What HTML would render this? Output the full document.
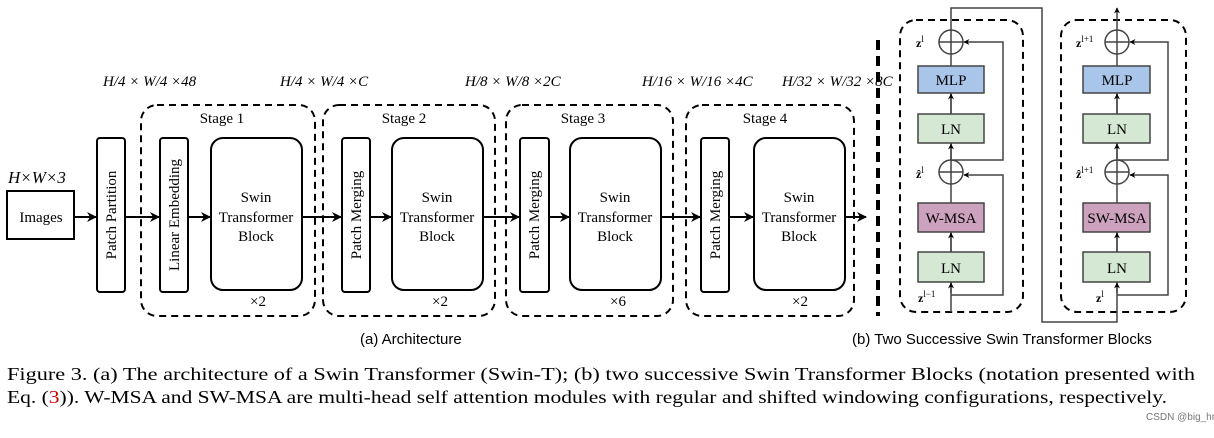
<!DOCTYPE html>
<html><head><meta charset="utf-8"><style>
body{margin:0;background:#fff;width:1214px;height:433px;overflow:hidden}
svg text{font-family:"Liberation Serif",serif;fill:#000}
.s{font-family:"Liberation Sans",sans-serif !important}
</style></head><body>
<svg width="1214" height="433" viewBox="0 0 1214 433" xmlns="http://www.w3.org/2000/svg">
<defs><marker id="a" viewBox="0 0 10 10" refX="9" refY="5" markerWidth="5" markerHeight="5" orient="auto"><path d="M0,0L10,5L0,10L3,5z" fill="#000"/></marker>
<marker id="b" viewBox="0 0 10 10" refX="9" refY="5" markerWidth="4" markerHeight="4" orient="auto"><path d="M0,0L10,5L0,10L3,5z" fill="#000"/></marker></defs>
<g fill="none" stroke="#000" stroke-width="2">
<rect x="7" y="191" width="67" height="48"/>
<rect x="97" y="138" width="28" height="154" rx="3"/>
<rect x="160" y="138" width="28" height="154" rx="3"/>
<rect x="211" y="138" width="91" height="152" rx="12"/>
<rect x="342" y="138" width="28" height="154" rx="3"/>
<rect x="392" y="138" width="91" height="152" rx="12"/>
<rect x="520" y="138" width="29" height="154" rx="3"/>
<rect x="570" y="138" width="91" height="152" rx="12"/>
<rect x="701" y="138" width="28" height="154" rx="3"/>
<rect x="754" y="138" width="91" height="152" rx="12"/>
<g stroke-dasharray="7,5">
<rect x="141" y="105" width="174" height="211" rx="16"/>
<rect x="323" y="105" width="172" height="211" rx="16"/>
<rect x="506" y="105" width="167" height="211" rx="16"/>
<rect x="686" y="105" width="168" height="211" rx="16"/>
<rect x="900" y="20" width="123" height="292" rx="16"/>
<rect x="1061" y="20" width="125" height="292" rx="16"/>
</g>
<line x1="878" y1="40" x2="878" y2="316" stroke-width="4" stroke-dasharray="10,6"/>
<g marker-end="url(#a)">
<line x1="74" y1="217" x2="96" y2="217"/>
<line x1="125" y1="217" x2="159" y2="217"/>
<line x1="188" y1="217" x2="210" y2="217"/>
<line x1="302" y1="217" x2="341" y2="217"/>
<line x1="370" y1="217" x2="391" y2="217"/>
<line x1="483" y1="217" x2="519" y2="217"/>
<line x1="549" y1="217" x2="569" y2="217"/>
<line x1="661" y1="217" x2="700" y2="217"/>
<line x1="729" y1="217" x2="753" y2="217"/>
<line x1="845" y1="217" x2="866" y2="217"/>
</g>
</g>
<g font-size="15" text-anchor="middle">
<text x="41" y="222">Images</text>
<text transform="translate(116,215) rotate(-90)">Patch Partition</text>
<text transform="translate(179,215) rotate(-90)">Linear Embedding</text>
<text transform="translate(361,215) rotate(-90)">Patch Merging</text>
<text transform="translate(539,215) rotate(-90)">Patch Merging</text>
<text transform="translate(720,215) rotate(-90)">Patch Merging</text>
<g><text x="256" y="202">Swin</text><text x="256" y="222">Transformer</text><text x="256" y="241">Block</text></g>
<g><text x="437" y="202">Swin</text><text x="437" y="222">Transformer</text><text x="437" y="241">Block</text></g>
<g><text x="615" y="202">Swin</text><text x="615" y="222">Transformer</text><text x="615" y="241">Block</text></g>
<g><text x="799" y="202">Swin</text><text x="799" y="222">Transformer</text><text x="799" y="241">Block</text></g>
<text x="222" y="123">Stage 1</text><text x="404" y="123">Stage 2</text>
<text x="583" y="123">Stage 3</text><text x="765" y="123">Stage 4</text>
<text x="258" y="306">×2</text><text x="440" y="306">×2</text><text x="618" y="306">×6</text><text x="800" y="306">×2</text>
</g>
<g font-size="17" font-style="italic"><text x="8" y="183">H×W×3</text></g>
<g font-size="15" font-style="italic">
<text x="103" y="86">H/4 × W/4 ×48</text>
<text x="280" y="86">H/4 × W/4 ×C</text>
<text x="465" y="86">H/8 × W/8 ×2C</text>
<text x="642" y="86">H/16 × W/16 ×4C</text>
<text x="782" y="86">H/32 × W/32 ×8C</text>
</g>
<g stroke="#444" stroke-width="1.5" fill="none">
<polyline points="951,312 951,29 951,8 1042,8 1042,322 1117,322 1117,312"/>
<line x1="1117" y1="312" x2="1117" y2="8" marker-end="url(#b)"/>
<circle cx="951" cy="42" r="12"/><circle cx="951" cy="172" r="12"/>
<circle cx="1117" cy="42" r="12"/><circle cx="1117" cy="172" r="12"/>
<line x1="939" y1="42" x2="963" y2="42"/><line x1="939" y1="172" x2="963" y2="172"/>
<line x1="1105" y1="42" x2="1129" y2="42"/><line x1="1105" y1="172" x2="1129" y2="172"/>
<polyline points="951,295 1003,295 1003,175 964,175" marker-end="url(#b)"/>
<polyline points="951,160 1003,160 1003,42 964,42" marker-end="url(#b)"/>
<polyline points="1117,295 1168,295 1168,175 1130,175" marker-end="url(#b)"/>
<polyline points="1117,160 1168,160 1168,42 1130,42" marker-end="url(#b)"/>
<line x1="951" y1="293" x2="951" y2="283" marker-end="url(#b)"/><line x1="951" y1="252" x2="951" y2="233" marker-end="url(#b)"/>
<line x1="951" y1="160" x2="951" y2="144" marker-end="url(#b)"/><line x1="951" y1="114" x2="951" y2="94" marker-end="url(#b)"/>
<line x1="1117" y1="293" x2="1117" y2="283" marker-end="url(#b)"/><line x1="1117" y1="252" x2="1117" y2="233" marker-end="url(#b)"/>
<line x1="1117" y1="160" x2="1117" y2="144" marker-end="url(#b)"/><line x1="1117" y1="114" x2="1117" y2="94" marker-end="url(#b)"/>
</g>
<g stroke="#444" stroke-width="1.5">
<rect x="918" y="66" width="66" height="27" fill="#a9c5ea"/><rect x="918" y="114" width="66" height="29" fill="#d5e8d4"/>
<rect x="918" y="203" width="66" height="29" fill="#cda2be"/><rect x="918" y="252" width="66" height="30" fill="#d5e8d4"/>
<rect x="1083" y="66" width="67" height="27" fill="#a9c5ea"/><rect x="1083" y="114" width="67" height="29" fill="#d5e8d4"/>
<rect x="1083" y="203" width="67" height="29" fill="#cda2be"/><rect x="1083" y="252" width="67" height="30" fill="#d5e8d4"/>
</g>
<g font-size="15" text-anchor="middle">
<text x="951" y="85">MLP</text><text x="951" y="134">LN</text><text x="951" y="223">W-MSA</text><text x="951" y="273">LN</text>
<text x="1117" y="85">MLP</text><text x="1117" y="134">LN</text><text x="1117" y="223">SW-MSA</text><text x="1117" y="273">LN</text>
</g>
<g font-size="12" font-weight="bold">
<text x="916" y="47">z<tspan font-size="9" dy="-5" font-weight="normal">l</tspan></text>
<text x="916" y="178">ẑ<tspan font-size="9" dy="-5" font-weight="normal">l</tspan></text>
<text x="918" y="302">z<tspan font-size="9" dy="-5" font-weight="normal">l−1</tspan></text>
<text x="1076" y="47">z<tspan font-size="9" dy="-5" font-weight="normal">l+1</tspan></text>
<text x="1076" y="178">ẑ<tspan font-size="9" dy="-5" font-weight="normal">l+1</tspan></text>
<text x="1096" y="302">z<tspan font-size="9" dy="-5" font-weight="normal">l</tspan></text>
</g>
<text class="s" x="360" y="344" font-size="15">(a) Architecture</text>
<text class="s" x="852" y="344" font-size="15">(b) Two Successive Swin Transformer Blocks</text>
<g font-size="17.5">
<text x="7" y="380" textLength="1188" lengthAdjust="spacingAndGlyphs">Figure 3. (a) The architecture of a Swin Transformer (Swin-T); (b) two successive Swin Transformer Blocks (notation presented with</text>
<text x="7" y="403" textLength="1160" lengthAdjust="spacingAndGlyphs">Eq. (<tspan fill="#c00">3</tspan>)). W-MSA and SW-MSA are multi-head self attention modules with regular and shifted windowing configurations, respectively.</text>
</g>
<text class="s" x="1146" y="420" font-size="10" fill="#666" style="fill:#777">CSDN @big_hm</text>
</svg>
</body></html>
